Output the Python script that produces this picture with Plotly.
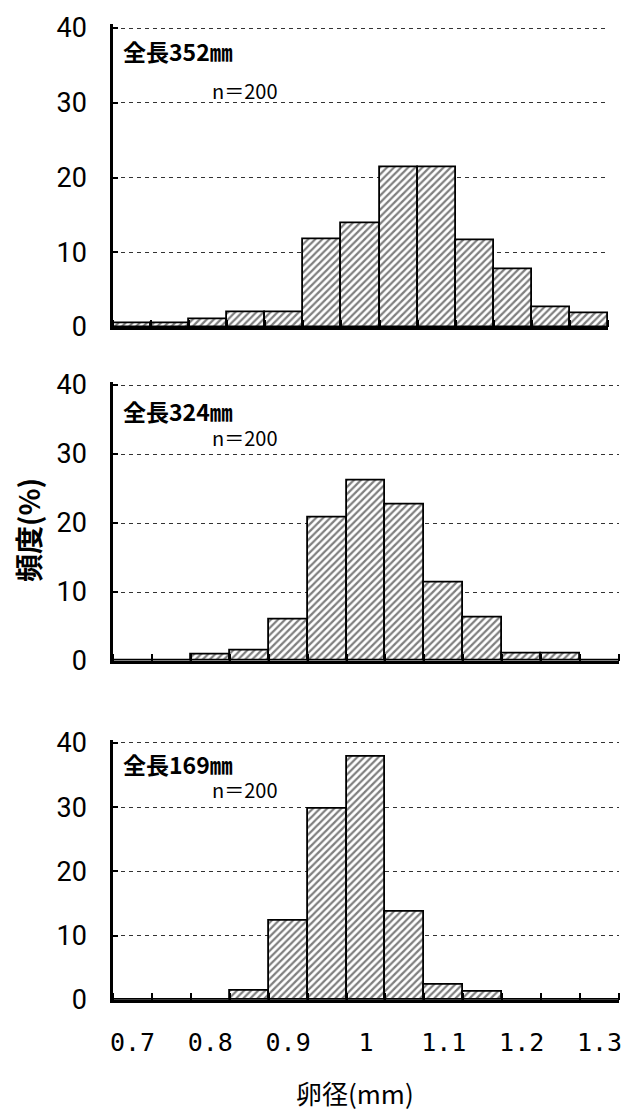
import plotly.graph_objects as go

# ---- data ----
diameter = [0.70, 0.75, 0.80, 0.85, 0.90, 0.95, 1.00, 1.05, 1.10, 1.15, 1.20, 1.25, 1.30]
freq_352 = [0.5, 0.5, 1.0, 2.0, 2.0, 11.7, 13.9, 21.4, 21.4, 11.6, 7.7, 2.7, 1.8]
freq_324 = [0.0, 0.0, 1.0, 1.5, 6.0, 20.8, 26.2, 22.7, 11.3, 6.3, 1.1, 1.1, 0.0]
freq_169 = [0.0, 0.0, 0.0, 1.5, 12.4, 29.8, 37.9, 13.8, 2.3, 1.3, 0.0, 0.0, 0.0]
panel_titles = ["全長352㎜", "全長324㎜", "全長169㎜"]
n_label = "n＝200"
xtick_vals = [0.7, 0.8, 0.9, 1.0, 1.1, 1.2, 1.3]
xtick_text = ["0.7", "0.8", "0.9", "1", "1.1", "1.2", "1.3"]
ytick_vals = [0, 10, 20, 30, 40]
x_title = "卵径(mm)"
y_title = "頻度(%)"

W, H = 625, 1110
bin_w = diameter[1] - diameter[0]
bounds = [d - bin_w / 2 for d in diameter] + [diameter[-1] + bin_w / 2]
xr = [bounds[0], bounds[-1]]
y_top = 40.5  # small headroom so the 40 gridline is drawn

# panel geometry in pixels: (left, right, top(y=40), bottom(y=0))
panels = [
    (113, 608, 28, 327),
    (113, 619, 385, 661),
    (113, 619, 743, 1000),
]
series = [freq_352, freq_324, freq_169]

fig = go.Figure()
tick_font = dict(family="Roboto, Liberation Sans, sans-serif", size=27, color="black")
xt_font = dict(family="DejaVu Sans Mono, Liberation Mono, monospace", size=25, color="black")
cjk = "Noto Sans CJK JP, Noto Sans CJK SC, sans-serif"

for i, ((l, r, t, b), ys) in enumerate(zip(panels, series)):
    ax = "" if i == 0 else str(i + 1)
    fig.add_trace(go.Bar(
        x=diameter, y=ys, width=bin_w,
        xaxis="x" + ax, yaxis="y" + ax,
        marker=dict(color="white",
                    line=dict(color="black", width=1.8),
                    pattern=dict(shape="/", fgcolor="black", bgcolor="white",
                                 size=5, solidity=0.45)),
        showlegend=False, hoverinfo="skip",
    ))
    xdom = [l / W, r / W]
    ydom = [1 - b / H, 1 - (t - (y_top - 40) * (b - t) / 40) / H]
    xa = dict(domain=xdom, range=xr, anchor="y" + ax, automargin=False,
              showline=True, linecolor="black", linewidth=2.5,
              showgrid=False, zeroline=False,
              tickmode="array", tickvals=xtick_vals, ticktext=xtick_text,
              ticks="", showticklabels=(i == 2), tickfont=xt_font,
              ticklabelstandoff=18,
              minor=dict(tickmode="array", tickvals=bounds, ticks="inside",
                         ticklen=7, tickwidth=2, tickcolor="black", showgrid=False))
    ya = dict(domain=ydom, range=[0, y_top], anchor="x" + ax, automargin=False,
              showline=True, linecolor="black", linewidth=2.5,
              tickmode="array", tickvals=ytick_vals,
              ticks="inside", ticklen=5, tickwidth=2, tickcolor="black",
              showgrid=True, gridcolor="#333333", gridwidth=1, griddash="4px,4px",
              zeroline=False, tickfont=tick_font, ticklabelstandoff=18)
    fig.update_layout(**{"xaxis" + ax: xa, "yaxis" + ax: ya})

    # panel annotations
    title_y = [51, 411, 764][i]
    fig.add_annotation(x=121 / W, y=1 - title_y / H, xref="paper", yref="paper",
                       text=panel_titles[i], showarrow=False, xanchor="left", yanchor="middle",
                       font=dict(family=cjk, size=23, color="black", weight="bold"))
    n_y = [90, 438, 790][i]
    fig.add_annotation(x=210 / W, y=1 - n_y / H, xref="paper", yref="paper",
                       text=n_label, showarrow=False, xanchor="left", yanchor="middle",
                       font=dict(family=cjk, size=20, color="black"))

fig.add_annotation(x=355 / W, y=1 - 1092 / H, xref="paper", yref="paper",
                   text=x_title, showarrow=False, xanchor="center", yanchor="middle",
                   font=dict(family=cjk, size=26, color="black"))
fig.add_annotation(x=28 / W, y=1 - 530 / H, xref="paper", yref="paper",
                   text=y_title, showarrow=False, textangle=-90,
                   xanchor="center", yanchor="middle",
                   font=dict(family=cjk, size=28, color="black", weight="bold"))

fig.update_layout(width=W, height=H,
                  margin=dict(l=0, r=0, t=0, b=0, pad=0, autoexpand=False),
                  paper_bgcolor="white", plot_bgcolor="white", bargap=0)
fig.write_html("out.html", config={"displayModeBar": False},
               post_script="document.body.style.margin='0';document.body.style.overflow='hidden';")
